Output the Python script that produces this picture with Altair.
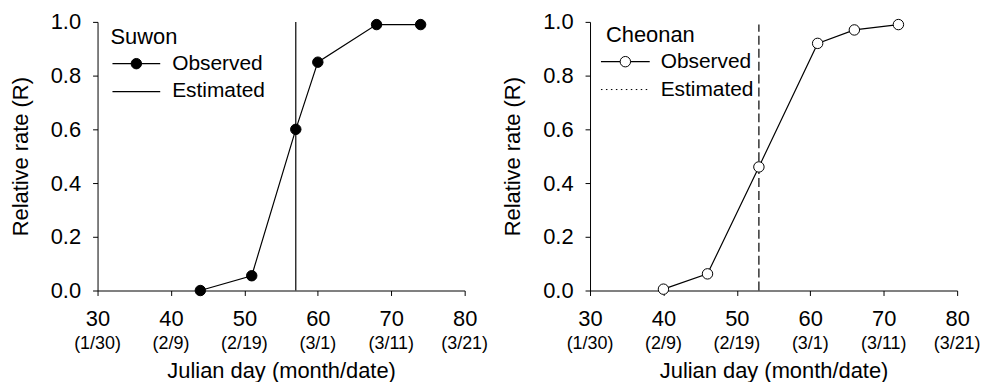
import altair as alt
import pandas as pd

ticks_x = [30, 40, 50, 60, 70, 80]
date_labels = ["(1/30)", "(2/9)", "(2/19)", "(3/1)", "(3/11)", "(3/21)"]

suwon_day = [44, 51, 57, 60, 68, 74]
suwon_r = [0.0, 0.055, 0.60, 0.85, 0.99, 0.99]
suwon_est = 57

cheonan_day = [40, 46, 53, 61, 66, 72]
cheonan_r = [0.005, 0.062, 0.46, 0.92, 0.97, 0.99]
cheonan_est = 53
cheonan_est_top = 0.99

FONT = "Arial"
W, H = 369, 270

dates = pd.DataFrame({"x": ticks_x, "lab": date_labels})
one = pd.DataFrame({"k": [0]})


def panel(days, rs, est, est_top, name, filled, dashed, leg):
    df = pd.DataFrame({"x": days, "y": rs})
    xs = alt.X("x:Q", scale=alt.Scale(domain=[30, 80], nice=False),
               axis=alt.Axis(values=ticks_x, title="Julian day (month/date)",
                             labelPadding=13, titlePadding=31, labelFlush=False))
    ys = alt.Y("y:Q", scale=alt.Scale(domain=[0, 1], nice=False),
               axis=alt.Axis(values=[0, 0.2, 0.4, 0.6, 0.8, 1.0], format=".1f",
                             title="Relative rate (R)", titlePadding=18,
                             labelPadding=12, labelFlush=False))
    line = alt.Chart(df).mark_line(color="black", strokeWidth=1.2).encode(x=xs, y=ys)
    pts = alt.Chart(df).mark_point(
        shape="circle", size=110, filled=True, opacity=1,
        fill="black" if filled else "white", stroke="black", strokeWidth=1
    ).encode(x="x:Q", y="y:Q")
    vdf = pd.DataFrame({"x": [est], "y": [0.0], "y2": [est_top]})
    vr = alt.Chart(vdf).mark_rule(
        color="black", strokeWidth=1.2,
        strokeDash=[9, 4] if dashed else [1, 0]
    ).encode(x="x:Q", y="y:Q", y2="y2:Q")
    dl = alt.Chart(dates).mark_text(
        font=FONT, fontSize=18, baseline="middle", color="black"
    ).encode(x="x:Q", y=alt.value(H + 54), text="lab:N")

    lx, ly, lx1, lx2, ltx = leg
    title = alt.Chart(one).mark_text(
        font=FONT, fontSize=22, align="left", baseline="middle", color="black"
    ).encode(x=alt.value(lx), y=alt.value(ly), text=alt.value(name))
    l1 = alt.Chart(one).mark_rule(color="black", strokeWidth=1.2).encode(
        x=alt.value(lx1), x2=alt.value(lx2), y=alt.value(ly + 27))
    lp = alt.Chart(one).mark_point(
        shape="circle", size=110, filled=True, opacity=1,
        fill="black" if filled else "white", stroke="black", strokeWidth=1
    ).encode(x=alt.value((lx1 + lx2) / 2), y=alt.value(ly + 27))
    t1 = alt.Chart(one).mark_text(
        font=FONT, fontSize=21, align="left", baseline="middle", color="black"
    ).encode(x=alt.value(ltx), y=alt.value(ly + 27), text=alt.value("Observed"))
    l2 = alt.Chart(one).mark_rule(
        color="black", strokeWidth=1.2 if filled else 1,
        strokeDash=[1, 0] if filled else [1.5, 3.5]
    ).encode(x=alt.value(lx1), x2=alt.value(lx2), y=alt.value(ly + 55))
    t2 = alt.Chart(one).mark_text(
        font=FONT, fontSize=21, align="left", baseline="middle", color="black"
    ).encode(x=alt.value(ltx), y=alt.value(ly + 55), text=alt.value("Estimated"))

    return alt.layer(line, vr, pts, dl, title, l1, lp, t1, l2, t2).properties(
        width=W, height=H)


left = panel(suwon_day, suwon_r, suwon_est, 1.0, "Suwon", True, False,
             (13, 15, 15, 63, 75))
right = panel(cheonan_day, cheonan_r, cheonan_est, cheonan_est_top, "Cheonan",
              False, True, (16, 13, 11, 60, 71))

chart = alt.hconcat(left, right, spacing=126, bounds="flush").configure_view(
    stroke=None
).configure_axis(
    grid=False, domainColor="black", tickColor="black", tickSize=5,
    labelFont=FONT, titleFont=FONT, labelFontSize=22, titleFontSize=22,
    labelColor="black", titleColor="black", titleFontWeight="normal",
    domainWidth=1, tickWidth=1,
).properties(padding={"top": 2, "left": 1, "right": 5, "bottom": 0})

chart.save("out.html", embed_options={"renderer": "svg", "actions": False})
